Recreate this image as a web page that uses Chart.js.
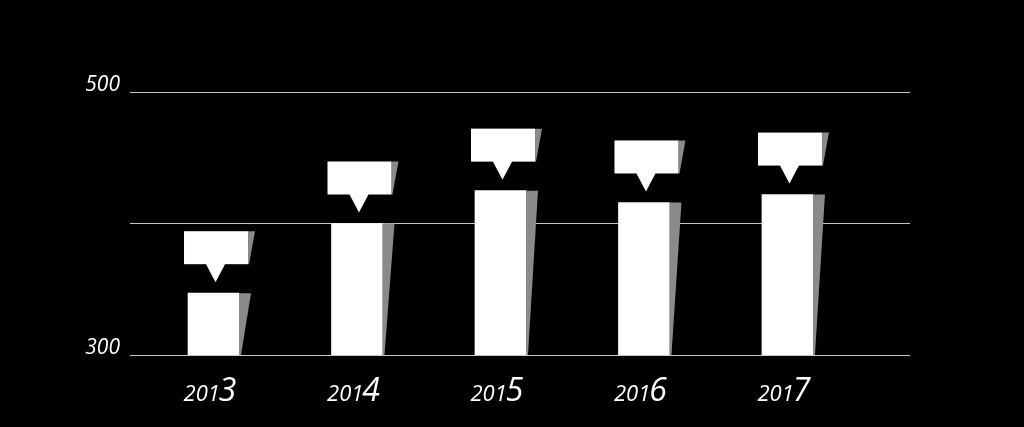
<!DOCTYPE html>
<html>
<head>
<meta charset="utf-8">
<script src="https://cdn.jsdelivr.net/npm/chart.js@4/dist/chart.umd.min.js"></script>
<style>
  html, body { margin: 0; padding: 0; background: #000; }
  #wrap { width: 1024px; height: 427px; }
</style>
</head>
<body>
<div id="wrap"><canvas id="chart" width="1024" height="427"></canvas></div>
<script>
// valeurs
const years = ["2013", "2014", "2015", "2016", "2017"];
const values = [347, 400, 425, 416, 422];
const yLabels = [300, 500];

// ombres, bulles et libellés dessinés à partir des éléments du graphique
const decor = {
    id: "decor",
    afterDatasetsDraw(chart) {
        const ctx = chart.ctx;
        const bars = chart.getDatasetMeta(0).data;
        const yScale = chart.scales.y;
        const area = chart.chartArea;
        ctx.save();
        bars.forEach((bar, i) => {
            const half = bar.width / 2;
            const left = bar.x - half;
            const right = bar.x + half;
            const top = bar.y;
            const bottom = Math.min(bar.base, area.bottom);

            // ombre de la barre
            ctx.fillStyle = "#8a8a8a";
            ctx.beginPath();
            ctx.moveTo(right, top);
            ctx.lineTo(right + 12, top);
            ctx.lineTo(right + 2, bottom);
            ctx.lineTo(right, bottom);
            ctx.closePath();
            ctx.fill();

            // bulle
            const bLeft = left - 4;
            const bRight = right + 9;
            const bBottom = top - 29;
            const bTop = bBottom - 33;
            ctx.fillStyle = "#8a8a8a";
            ctx.beginPath();
            ctx.moveTo(bRight, bTop);
            ctx.lineTo(bRight + 7, bTop);
            ctx.lineTo(bRight + 1, bBottom);
            ctx.lineTo(bRight, bBottom);
            ctx.closePath();
            ctx.fill();

            ctx.fillStyle = "#ffffff";
            ctx.fillRect(bLeft, bTop, bRight - bLeft, bBottom - bTop);
            const cx = bar.x + 2;
            ctx.beginPath();
            ctx.moveTo(cx - 10, bBottom - 1);
            ctx.lineTo(cx + 10, bBottom - 1);
            ctx.lineTo(cx, bBottom + 18);
            ctx.closePath();
            ctx.fill();

            // année : trois premiers chiffres petits, dernier grand
            const txt = years[i];
            const small = txt.slice(0, 3);
            const big = txt.slice(3);
            const smallFont = "italic 22px 'Open Sans'";
            const bigFont = "italic 32px 'Open Sans'";
            ctx.font = smallFont;
            const ws = ctx.measureText(small).width;
            ctx.font = bigFont;
            const wb = ctx.measureText(big).width;
            const x0 = bar.x - 3 - (ws + wb) / 2;
            const baseY = 401;
            ctx.textBaseline = "alphabetic";
            ctx.textAlign = "left";
            ctx.fillStyle = "#ffffff";
            ctx.font = smallFont;
            ctx.fillText(small, x0, baseY);
            ctx.font = bigFont;
            ctx.fillText(big, x0 + ws - 1, baseY);
        });

        // libellés de l'axe y
        ctx.font = "italic 21px 'Open Sans'";
        ctx.textAlign = "right";
        ctx.textBaseline = "alphabetic";
        ctx.fillStyle = "#ffffff";
        yLabels.forEach(v => {
            const py = yScale.getPixelForValue(v);
            ctx.fillText(String(v), 120, py - 1);
        });
        ctx.restore();
    }
};

const ctx = document.getElementById("chart").getContext("2d");
new Chart(ctx, {
    type: "bar",
    data: {
        datasets: [{
            data: values.map((v, i) => ({ x: i, y: v })),
            backgroundColor: "#ffffff",
            borderWidth: 0,
            barThickness: 51
        }]
    },
    options: {
        responsive: false,
        animation: false,
        layout: { padding: { left: 130, right: 114, top: 92, bottom: 64 } },
        plugins: { legend: { display: false }, tooltip: { enabled: false } },
        scales: {
            x: {
                type: "linear",
                offset: false,
                min: -0.582,
                max: 4.854,
                grid: { display: false },
                border: { display: false },
                ticks: { display: false }
            },
            y: {
                min: 300,
                max: 500,
                ticks: { display: false, stepSize: 100 },
                grid: { color: "#c8c8c8", lineWidth: 1, drawTicks: false },
                border: { display: false }
            }
        }
    },
    plugins: [decor]
});
</script>
</body>
</html>
